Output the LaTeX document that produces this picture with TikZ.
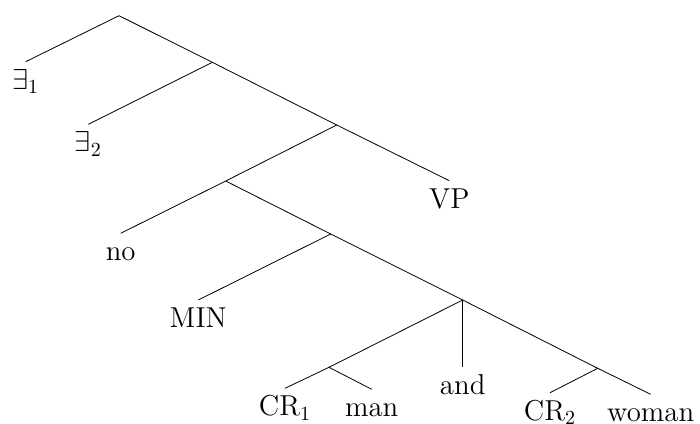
\documentclass[tikz,border=0pt]{standalone}
\usepackage{amsmath}

\tikzset{
	leaf/.style={anchor=north, inner sep=0pt, text height=13.5pt, text depth=3pt}
}

\begin{document}
\begin{tikzpicture}[x=0.5pt, y=-0.5pt, font=\fontsize{14.4}{17}\selectfont]
			\useasboundingbox (0, 0) rectangle (700, 423);

			\coordinate (root) at (119, 15.7);
			\coordinate (n1) at (212.3, 62.3);
			\coordinate (n2) at (336.7, 125);
			\coordinate (n3) at (225.7, 181);
			\coordinate (n4) at (330.7, 234);
			\coordinate (n5) at (462.7, 300);
			\coordinate (n6) at (329, 367.3);
			\coordinate (n7) at (597.7, 368.3);

			\node [leaf] (e1) at (25.7, 61.7) {$\exists_1$};
			\node [leaf] (e2) at (88.3, 124.3) {$\exists_2$};
			\node [leaf] (vp) at (449.3, 180.7) {VP};
			\node [leaf] (no) at (120.7, 233.3) {no};
			\node [leaf] (min) at (198.3, 300) {MIN};
			\node [leaf] (and) at (462.7, 367.3) {and};
			\node [leaf] (cr1) at (285, 388.3) {CR$_1$};
			\node [leaf] (man) at (371.7, 389.3) {man};
			\node [leaf] (cr2) at (550, 392.7) {CR$_2$};
			\node [leaf] (woman) at (650.7, 394.3) {woman};

			\draw (root) -- (e1.north);
			\draw (root) -- (n1);
			\draw (n1) -- (e2.north);
			\draw (n1) -- (n2);
			\draw (n2) -- (n3);
			\draw (n2) -- (vp.north);
			\draw (n3) -- (no.north);
			\draw (n3) -- (n4);
			\draw (n4) -- (min.north);
			\draw (n4) -- (n5);
			\draw (n5) -- (n6);
			\draw (n5) -- (and.north);
			\draw (n5) -- (n7);
			\draw (n6) -- (cr1.north);
			\draw (n6) -- (man.north);
			\draw (n7) -- (cr2.north);
			\draw (n7) -- (woman.north);
		\end{tikzpicture}
\end{document}
